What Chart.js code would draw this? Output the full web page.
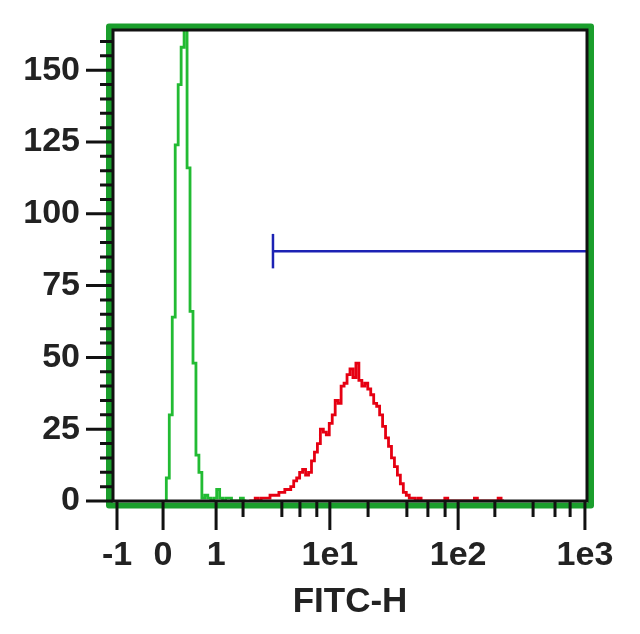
<!DOCTYPE html>
<html>
<head>
<meta charset="utf-8">
<script src="https://cdn.jsdelivr.net/npm/chart.js@4"></script>
<style>
  body { margin: 0; background: #fff; }
  canvas { display: block; }
</style>
</head>
<body>
<canvas id="histChart" width="640" height="634"></canvas>
<script>
const channelMax = 160;
const xTickLabels = ["-1", "0", "1", "1e1", "1e2", "1e3"];
const xMajorChannels = [1.35, 16.9, 34.8, 73.2, 116.5, 159.3];
const xMinorChannels = [43.9, 57.0, 63.1, 68.8, 86.1, 99.2, 106.3, 112.1, 128.9, 141.8, 149.2, 154.3];

const yMax = 164;
const yMajorTicks = [0, 25, 50, 75, 100, 125, 150];
const yMinorStep = 5;

// control (green) histogram, counts per channel starting at greenStart
const greenStart = 18;
const greenCounts = [8, 30, 64, 124, 145, 158, 180, 116, 66, 48, 16, 10, 1, 2, 1, 0, 1, 4, 1, 0, 1, 1, 0, 0, 0, 1, 0];

// stained (red) histogram
const redStart = 46;
const redCounts = [
  0, 0, 1, 0, 1, 1, 1, 2, 2, 2, 3, 3, 4, 4, 5, 7, 8, 10, 11, 9,
  10, 14, 17, 20, 25, 24, 23, 27, 30, 35, 34, 40, 41, 44, 46, 43, 48, 42, 40, 41,
  39, 37, 34, 33, 30, 26, 22, 19, 15, 12, 9, 6, 3, 2, 1, 1, 0, 1, 0, 0,
  0, 0, 0, 0, 0, 0, 1, 0, 0, 0, 0, 0, 0, 0, 0, 0, 1, 0, 0, 0,
  0, 0, 0, 0, 1, 0
];

// marker gate
const gateLevel = 87;
const gateFrom = 54;
const gateTo = 160;
const gateCap = 6;

function histPoints(start, counts) {
  const pts = [{ x: start, y: 0 }];
  counts.forEach((c, i) => pts.push({ x: start + i, y: c }));
  pts.push({ x: start + counts.length, y: 0 });
  return pts;
}

const labelFont = { family: "'Liberation Sans', Arial, sans-serif", size: 34, weight: "bold" };
const textColor = "#222";

// frame with green outer band, black inner line and tick marks
const framePlugin = {
  id: "frame",
  afterDatasetsDraw(chart) {
    const { ctx, chartArea: a, scales: { x, y } } = chart;
    ctx.save();
    ctx.strokeStyle = "#1a9e2c";
    ctx.lineWidth = 6;
    ctx.lineJoin = "round";
    ctx.strokeRect(a.left - 4, a.top - 3.5, a.right - a.left + 8, a.bottom - a.top + 8);
    ctx.strokeStyle = "#111";
    ctx.lineWidth = 3;
    ctx.lineJoin = "miter";
    ctx.strokeRect(a.left, a.top, a.right - a.left, a.bottom - a.top);

    ctx.lineWidth = 3;
    ctx.beginPath();
    xMajorChannels.forEach((v) => {
      const px = x.getPixelForValue(v);
      ctx.moveTo(px, a.bottom);
      ctx.lineTo(px, a.bottom + 29);
    });
    xMinorChannels.forEach((v) => {
      const px = x.getPixelForValue(v);
      ctx.moveTo(px, a.bottom);
      ctx.lineTo(px, a.bottom + 16);
    });
    for (let v = 0; v <= yMax; v += yMinorStep) {
      const py = y.getPixelForValue(v);
      const len = yMajorTicks.includes(v) ? 27 : 13;
      ctx.moveTo(a.left - len, py);
      ctx.lineTo(a.left, py);
    }
    ctx.stroke();
    ctx.restore();
  },
};

const ctx = document.getElementById("histChart").getContext("2d");

const histChart = new Chart(ctx, {
  type: "line",
  data: {
    datasets: [
      {
        label: "Control",
        data: histPoints(greenStart, greenCounts),
        borderColor: "#22bb33",
        borderWidth: 2.8,
        stepped: true,
        pointRadius: 0,
        fill: false,
      },
      {
        label: "Stained",
        data: histPoints(redStart, redCounts),
        borderColor: "#e60012",
        borderWidth: 2.8,
        stepped: true,
        pointRadius: 0,
        fill: false,
      },
      {
        label: "Gate",
        data: [{ x: gateFrom, y: gateLevel }, { x: gateTo, y: gateLevel }],
        borderColor: "#1c22b4",
        borderWidth: 2.5,
        pointRadius: 0,
      },
      {
        label: "Gate end",
        data: [{ x: gateFrom, y: gateLevel - gateCap }, { x: gateFrom, y: gateLevel + gateCap }],
        borderColor: "#1c22b4",
        borderWidth: 2.5,
        pointRadius: 0,
      },
    ],
  },
  options: {
    responsive: false,
    animation: false,
    layout: { padding: { left: 0, top: 30, right: 53, bottom: 0 } },
    plugins: { legend: { display: false }, tooltip: { enabled: false } },
    scales: {
      x: {
        type: "linear",
        min: 0,
        max: channelMax,
        afterBuildTicks: (s) => {
          s.ticks = xMajorChannels.map((v) => ({ value: v }));
        },
        afterFit: (s) => {
          s.height = 133;
          s.paddingLeft = 0;
          s.paddingRight = 0;
        },
        ticks: {
          autoSkip: false,
          maxRotation: 0,
          padding: 34,
          font: labelFont,
          color: textColor,
          callback: (v, i) => xTickLabels[i],
        },
        grid: { display: false, drawTicks: false },
        border: { display: false },
        title: {
          display: true,
          text: "FITC-H",
          font: { family: labelFont.family, size: 35, weight: "bold" },
          color: textColor,
          padding: { top: 0, bottom: 11 },
        },
      },
      y: {
        min: 0,
        max: yMax,
        afterBuildTicks: (s) => {
          s.ticks = yMajorTicks.map((v) => ({ value: v }));
        },
        afterFit: (s) => {
          s.width = 113;
          s.paddingTop = 0;
          s.paddingBottom = 0;
        },
        ticks: {
          padding: 33,
          font: labelFont,
          color: textColor,
        },
        grid: { display: false, drawTicks: false },
        border: { display: false },
      },
    },
  },
  plugins: [framePlugin],
});
</script>
</body>
</html>
